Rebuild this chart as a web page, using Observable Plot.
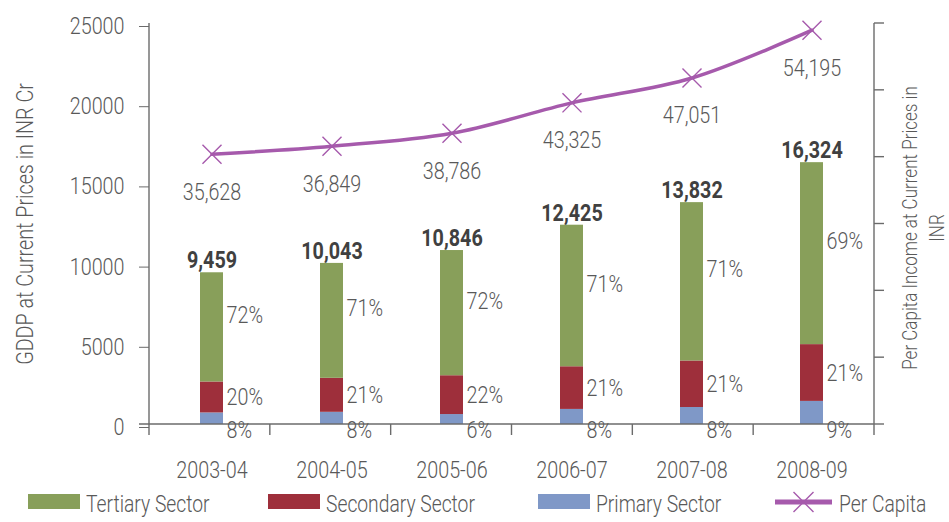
<!DOCTYPE html>
<html>
<head>
<meta charset="utf-8">
<script src="https://cdn.jsdelivr.net/npm/d3@7"></script>
<script src="https://cdn.jsdelivr.net/npm/@observablehq/plot@0.6"></script>
<style>
  body { margin: 0; background: #fff; font-family: Roboto, "Liberation Sans", sans-serif; font-weight: 300; }
  #legend { position: relative; width: 949px; height: 37px; color: #595959; font-size: 23.5px; }
  .item { position: absolute; top: 0; height: 37px; display: flex; align-items: center; }
  .sw { width: 52px; height: 15px; margin-right: 6px; margin-top: -4px; flex: none; }
  .lbl { display: inline-block; transform: scaleX(0.82); transform-origin: 0 50%; white-space: nowrap; }
</style>
</head>
<body>
<div id="chart"></div>
<div id="legend"></div>
<script>
// ---- data ----
const years = ["2003-04", "2004-05", "2005-06", "2006-07", "2007-08", "2008-09"];
const primary   = [720, 760, 620, 940, 1060, 1440];
const secondary = [1930, 2120, 2420, 2660, 2900, 3540];
const tertiary  = [6809, 7163, 7806, 8825, 9872, 11344];
const totals    = [9459, 10043, 10846, 12425, 13832, 16324];
const primaryPct   = ["8%", "8%", "6%", "8%", "8%", "9%"];
const secondaryPct = ["20%", "21%", "22%", "21%", "21%", "21%"];
const tertiaryPct  = ["72%", "71%", "72%", "71%", "71%", "69%"];
const perCapita = [35628, 36849, 38786, 43325, 47051, 54195];
const gddpTicks = [0, 5000, 10000, 15000, 20000, 25000];
const perCapitaDomain = [-4800, 55200];
const perCapitaStep = 10000;
const sectors = ["Primary Sector", "Secondary Sector", "Tertiary Sector"];
const sectorColors = ["#7f98c7", "#9e2f3b", "#889f5a"];
const lineColor = "#a65aac";
const textColor = "#595959";
const leftTitle = "GDDP at Current Prices in INR Cr";
const rightTitle = "Per Capita Income at Current Prices in\nINR";

// ---- derived tables ----
const gMax = gddpTicks[gddpTicks.length - 1];
const pcY = v => (v - perCapitaDomain[0]) / (perCapitaDomain[1] - perCapitaDomain[0]) * gMax;
const stackRows = [];
years.forEach((y, i) => {
  stackRows.push({year: y, sector: sectors[0], value: primary[i]});
  stackRows.push({year: y, sector: sectors[1], value: secondary[i]});
  stackRows.push({year: y, sector: sectors[2], value: tertiary[i]});
});
const rows = years.map((y, i) => ({
  year: y,
  total: totals[i],
  secMid: primary[i] + secondary[i] / 2,
  terMid: primary[i] + secondary[i] + tertiary[i] / 2,
  pPct: primaryPct[i], sPct: secondaryPct[i], tPct: tertiaryPct[i],
  pc: perCapita[i], pcy: pcY(perCapita[i])
}));
const pcTicks = d3.range(perCapitaDomain[0], perCapitaDomain[1] + 1, perCapitaStep);

const fs = 23.5;
const squeeze = 0.84;
const bandPad = 0.81;
const fontStack = 'Roboto, "Liberation Sans", sans-serif';

function axisLines(index, scales, values, dims) {
  const {width, height, marginLeft, marginRight, marginTop, marginBottom} = dims;
  const bottom = height - marginBottom;
  const right = width - marginRight;
  const step = (right - marginLeft) / years.length;
  const g = d3.create("svg:g").attr("stroke", "#6b6b6b").attr("stroke-width", 1.4).attr("fill", "none");
  g.append("line").attr("x1", marginLeft).attr("x2", marginLeft).attr("y1", marginTop).attr("y2", bottom + 11);
  g.append("line").attr("x1", right).attr("x2", right).attr("y1", marginTop).attr("y2", bottom + 11);
  g.append("line").attr("x1", marginLeft - 10).attr("x2", right).attr("y1", bottom).attr("y2", bottom);
  for (let k = 1; k < years.length; k++) {
    const x = marginLeft + k * step;
    g.append("line").attr("x1", x).attr("x2", x).attr("y1", bottom).attr("y2", bottom + 11);
  }
  for (const t of pcTicks) {
    const y = scales.y(pcY(t));
    g.append("line").attr("x1", right).attr("x2", right + 10).attr("y1", y).attr("y2", y);
  }
  return g.node();
}

const chart = Plot.plot({
  width: 949,
  height: 485,
  marginLeft: 149,
  marginRight: 75,
  marginTop: 23,
  marginBottom: 61,
  style: {fontFamily: fontStack, fontSize: fs + "px", fontWeight: 300, color: textColor, background: "#fff"},
  x: {domain: years, paddingInner: bandPad, paddingOuter: bandPad / 2, label: null},
  y: {domain: [0, gMax], label: null},
  color: {domain: sectors, range: sectorColors},
  marks: [
    Plot.barY(stackRows, {x: "year", y: "value", fill: "sector"}),
    axisLines,
    Plot.axisY({ticks: gddpTicks, tickFormat: d => String(d), tickSize: 10, tickPadding: 15, fontSize: fs, stroke: "#6b6b6b", dy: 3, label: null}),
    Plot.axisX({tickSize: 0, tickPadding: 37, fontSize: fs, label: null}),
    Plot.line(rows, {x: "year", y: "pcy", curve: "catmull-rom", stroke: lineColor, strokeWidth: 3.5}),
    Plot.dot(rows, {x: "year", y: "pcy", symbol: "times", r: 8.7, stroke: lineColor, strokeWidth: 1.4}),
    Plot.text(rows, {x: "year", y: "pcy", text: d => d3.format(",")(d.pc), dy: 38, fontSize: fs, fill: textColor}),
    Plot.text(rows, {x: "year", y: "total", text: d => d3.format(",")(d.total), dy: -12, fontSize: fs, fontWeight: "bold", fill: "#404040"}),
    Plot.text(rows, {x: "year", y: "terMid", text: "tPct", dx: 14.5, dy: -12, textAnchor: "start", fontSize: fs, fill: textColor}),
    Plot.text(rows, {x: "year", y: "secMid", text: "sPct", dx: 14.5, textAnchor: "start", fontSize: fs, fill: textColor}),
    Plot.text(rows, {x: "year", y: () => 0, text: "pPct", dx: 14.5, dy: 6, textAnchor: "start", fontSize: fs, fill: textColor}),
    Plot.text([leftTitle], {frameAnchor: "left", dx: -124, rotate: -90, textAnchor: "middle", fontSize: fs, fill: textColor}),
    Plot.text([rightTitle], {frameAnchor: "right", dx: 47.5, dy: 4, rotate: -90, textAnchor: "middle", lineHeight: 1.32, fontSize: 20.3, fill: textColor})
  ]
});
document.getElementById("chart").appendChild(chart);

// condense glyphs horizontally (the reference uses a condensed face),
// keeping each text's original anchor point
chart.querySelectorAll("text").forEach(t => {
  const anchor = getComputedStyle(t).textAnchor;
  const spans = t.querySelectorAll("tspan");
  const targets = spans.length ? Array.from(spans) : [t];
  const before = targets.map(el => el.getBBox());
  const lens = targets.map(el => el.getComputedTextLength());
  targets.forEach((el, i) => {
    const L = lens[i] * squeeze;
    if (!(L > 0)) return;
    el.setAttribute("textLength", L.toFixed(2));
    el.setAttribute("lengthAdjust", "spacingAndGlyphs");
  });
  targets.forEach((el, i) => {
    const b0 = before[i], b1 = el.getBBox();
    let shift;
    if (anchor === "middle") shift = (b0.x + b0.width / 2) - (b1.x + b1.width / 2);
    else if (anchor === "end") shift = (b0.x + b0.width) - (b1.x + b1.width);
    else shift = b0.x - b1.x;
    if (Math.abs(shift) > 0.01) {
      const prev = parseFloat(el.getAttribute("dx")) || 0;
      el.setAttribute("dx", (prev + shift).toFixed(2));
    }
  });
});

// ---- legend ----
const legendItems = [
  {label: "Tertiary Sector", color: sectorColors[2], left: 28},
  {label: "Secondary Sector", color: sectorColors[1], left: 268},
  {label: "Primary Sector", color: sectorColors[0], left: 538},
  {label: "Per Capita", line: true, left: 775}
];
const legend = d3.select("#legend");
for (const it of legendItems) {
  const item = legend.append("div").attr("class", "item").style("left", it.left + "px");
  if (it.line) {
    const s = item.append("svg").attr("width", 57).attr("height", 24).style("margin-right", "7px").style("margin-top", "-4px").style("flex", "none");
    s.append("line").attr("x1", 0).attr("x2", 57).attr("y1", 12).attr("y2", 12).attr("stroke", lineColor).attr("stroke-width", 5);
    s.append("path").attr("d", "M18.5,2L38.5,22M18.5,22L38.5,2").attr("stroke", lineColor).attr("stroke-width", 1.4);
  } else {
    item.append("div").attr("class", "sw").style("background", it.color);
  }
  item.append("span").attr("class", "lbl").text(it.label);
}
</script>
</body>
</html>
